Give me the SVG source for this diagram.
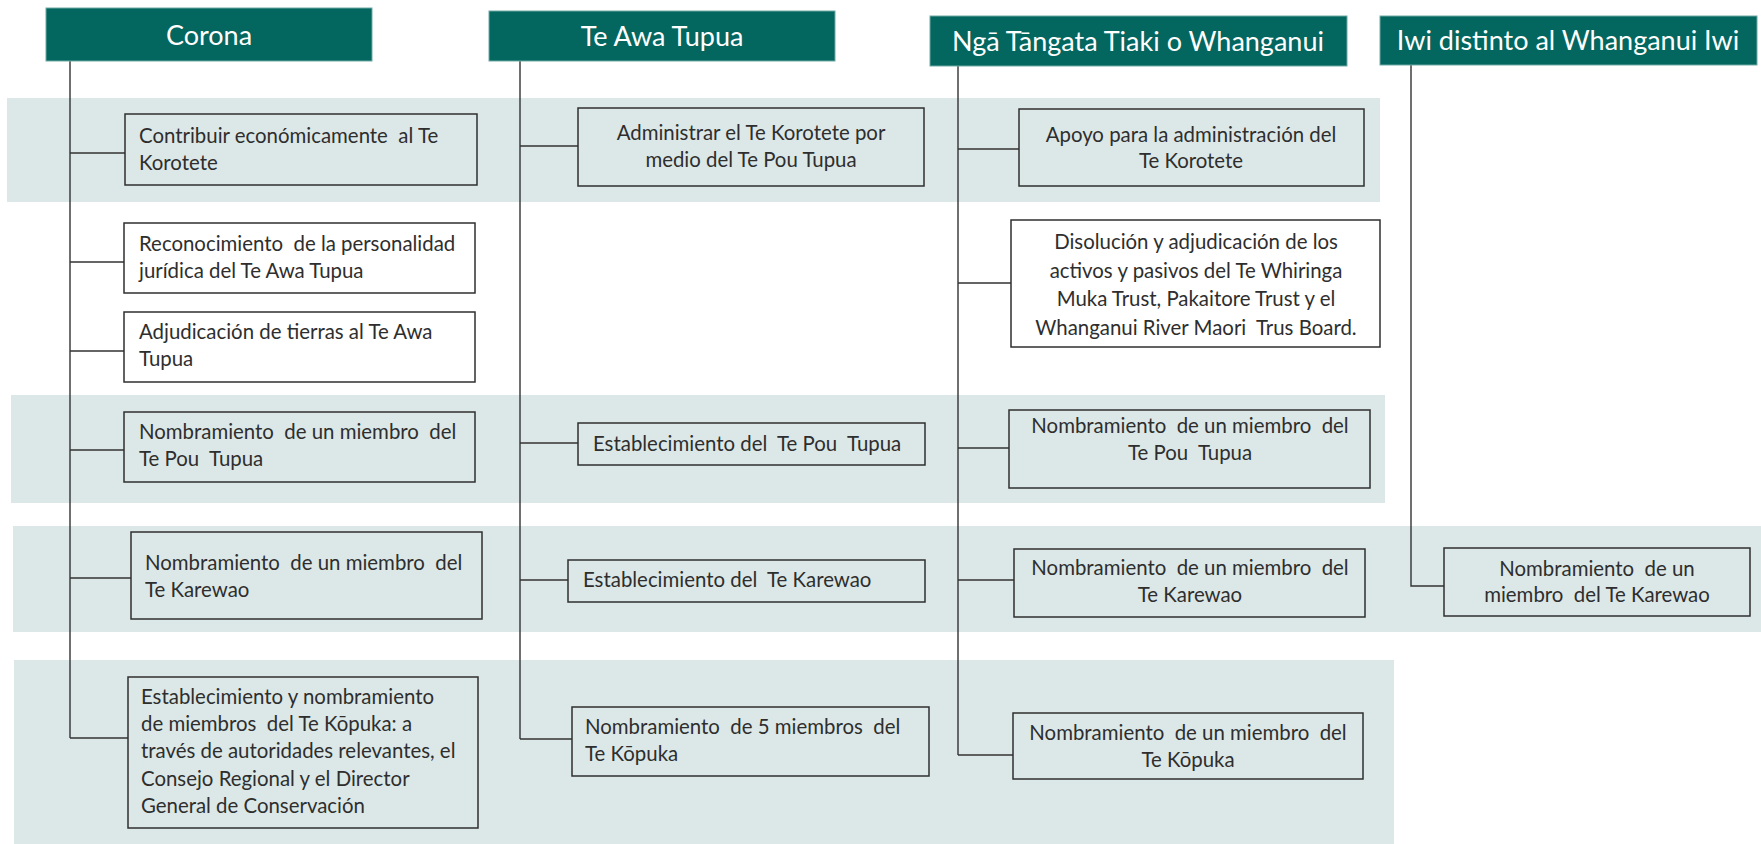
<svg xmlns="http://www.w3.org/2000/svg" width="1761" height="844" viewBox="0 0 1761 844">
  <style>
    .band { fill: #dce8e7; }
    .head { fill: #03665f; stroke: #6fa9a3; stroke-width: 1; }
    .htxt { font-family: Lato, "Liberation Sans", sans-serif; font-size: 27px; fill: #ffffff; text-anchor: middle; }
    .box { fill: none; stroke: #2f2f2f; stroke-width: 1.5; }
    .txt { font-family: Lato, "Liberation Sans", sans-serif; font-size: 20.4px; fill: #2e2e2e; white-space: pre; }
    .mid { text-anchor: middle; }
    .wire { fill: none; stroke: #333333; stroke-width: 1.4; }
  </style>

  <!-- row bands -->
  <g id="bands">
    <rect class="band" x="7" y="98" width="1373" height="104"/>
    <rect class="band" x="11" y="395" width="1374" height="108"/>
    <rect class="band" x="13" y="526" width="1748" height="106"/>
    <rect class="band" x="14" y="660" width="1380" height="184"/>
  </g>

  <!-- trunk lines and branches -->
  <g id="connectors">
    <path class="wire" d="M70 61 V738 M70 153 H125 M70 262 H124 M70 351 H124 M70 450 H124 M70 578 H131 M70 738 H128"/>
    <path class="wire" d="M520 61 V739 M520 146 H578 M520 443 H578 M520 580 H568 M520 739 H572"/>
    <path class="wire" d="M958 66 V755 M958 149 H1019 M958 283 H1011 M958 448 H1009 M958 580 H1014 M958 755 H1013"/>
    <path class="wire" d="M1411 65 V586 H1444"/>
  </g>

  <!-- column headers -->
  <g id="h-corona">
    <rect class="head" x="46" y="8" width="326" height="53"/>
    <text class="htxt" x="209" y="45">Corona</text>
  </g>
  <g id="h-teawatupua">
    <rect class="head" x="489" y="11" width="346" height="50"/>
    <text class="htxt" x="662" y="46">Te Awa Tupua</text>
  </g>
  <g id="h-ngatangata">
    <rect class="head" x="930" y="16" width="417" height="50"/>
    <text class="htxt" x="1138" y="51">Ngā Tāngata Tiaki o Whanganui</text>
  </g>
  <g id="h-iwi">
    <rect class="head" x="1380" y="16" width="377" height="49"/>
    <text class="htxt" x="1568" y="50">Iwi distinto al Whanganui Iwi</text>
  </g>

  <!-- Corona column -->
  <g id="c1">
    <rect class="box" x="125" y="114" width="352" height="71"/>
    <text class="txt" x="139" y="143">Contribuir económicamente  al Te</text>
    <text class="txt" x="139" y="170">Korotete</text>
  </g>
  <g id="c2">
    <rect class="box" x="124" y="223" width="351" height="70"/>
    <text class="txt" x="139" y="251">Reconocimiento  de la personalidad</text>
    <text class="txt" x="139" y="278">jurídica del Te Awa Tupua</text>
  </g>
  <g id="c3">
    <rect class="box" x="124" y="312" width="351" height="70"/>
    <text class="txt" x="139" y="339">Adjudicación de tierras al Te Awa</text>
    <text class="txt" x="139" y="366">Tupua</text>
  </g>
  <g id="c4">
    <rect class="box" x="124" y="412" width="351" height="70"/>
    <text class="txt" x="139" y="439">Nombramiento  de un miembro  del</text>
    <text class="txt" x="139" y="466">Te Pou  Tupua</text>
  </g>
  <g id="c5">
    <rect class="box" x="131" y="532" width="351" height="87"/>
    <text class="txt" x="145" y="570">Nombramiento  de un miembro  del</text>
    <text class="txt" x="145" y="597">Te Karewao</text>
  </g>
  <g id="c6">
    <rect class="box" x="128" y="677" width="350" height="151"/>
    <text class="txt" x="141" y="704">Establecimiento y nombramiento</text>
    <text class="txt" x="141" y="731">de miembros  del Te Kōpuka: a</text>
    <text class="txt" x="141" y="758">través de autoridades relevantes, el</text>
    <text class="txt" x="141" y="786">Consejo Regional y el Director</text>
    <text class="txt" x="141" y="813">General de Conservación</text>
  </g>

  <!-- Te Awa Tupua column -->
  <g id="t1">
    <rect class="box" x="578" y="108" width="346" height="78"/>
    <text class="txt mid" x="751" y="140">Administrar el Te Korotete por</text>
    <text class="txt mid" x="751" y="167">medio del Te Pou Tupua</text>
  </g>
  <g id="t2">
    <rect class="box" x="578" y="423" width="347" height="42"/>
    <text class="txt" x="593" y="451">Establecimiento del  Te Pou  Tupua</text>
  </g>
  <g id="t3">
    <rect class="box" x="568" y="560" width="357" height="42"/>
    <text class="txt" x="583" y="587">Establecimiento del  Te Karewao</text>
  </g>
  <g id="t4">
    <rect class="box" x="572" y="707" width="357" height="69"/>
    <text class="txt" x="585" y="734">Nombramiento  de 5 miembros  del</text>
    <text class="txt" x="585" y="761">Te Kōpuka</text>
  </g>

  <!-- Ngā Tāngata Tiaki o Whanganui column -->
  <g id="n1">
    <rect class="box" x="1019" y="109" width="345" height="77"/>
    <text class="txt mid" x="1191" y="142">Apoyo para la administración del</text>
    <text class="txt mid" x="1191" y="168">Te Korotete</text>
  </g>
  <g id="n2">
    <rect class="box" x="1011" y="220" width="369" height="127"/>
    <text class="txt mid" x="1196" y="249">Disolución y adjudicación de los</text>
    <text class="txt mid" x="1196" y="278">activos y pasivos del Te Whiringa</text>
    <text class="txt mid" x="1196" y="306">Muka Trust, Pakaitore Trust y el</text>
    <text class="txt mid" x="1196" y="335">Whanganui River Maori  Trus Board.</text>
  </g>
  <g id="n3">
    <rect class="box" x="1009" y="410" width="361" height="78"/>
    <text class="txt mid" x="1190" y="433">Nombramiento  de un miembro  del</text>
    <text class="txt mid" x="1190" y="460">Te Pou  Tupua</text>
  </g>
  <g id="n4">
    <rect class="box" x="1014" y="549" width="351" height="68"/>
    <text class="txt mid" x="1190" y="575">Nombramiento  de un miembro  del</text>
    <text class="txt mid" x="1190" y="602">Te Karewao</text>
  </g>
  <g id="n5">
    <rect class="box" x="1013" y="713" width="350" height="66"/>
    <text class="txt mid" x="1188" y="740">Nombramiento  de un miembro  del</text>
    <text class="txt mid" x="1188" y="767">Te Kōpuka</text>
  </g>

  <!-- Iwi distinto al Whanganui Iwi column -->
  <g id="i1">
    <rect class="box" x="1444" y="548" width="306" height="68"/>
    <text class="txt mid" x="1597" y="576">Nombramiento  de un</text>
    <text class="txt mid" x="1597" y="602">miembro  del Te Karewao</text>
  </g>
</svg>
